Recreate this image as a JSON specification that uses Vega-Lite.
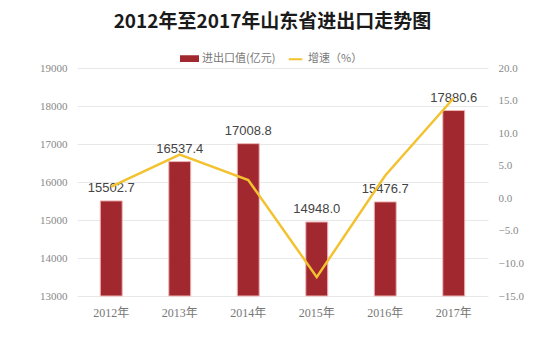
{
  "$schema": "https://vega.github.io/schema/vega-lite/v6.json",
  "autosize": {"type": "none"},
  "width": 411,
  "height": 228,
  "padding": {"left": 77, "top": 68, "right": 62, "bottom": 68},
  "background": "white",
  "config": {"view": {"stroke": null}},
  "title": {
    "text": "2012年至2017年山东省进出口走势图",
    "font": "Noto Sans CJK SC",
    "fontSize": 19,
    "fontWeight": "bold",
    "color": "#1a1a1a",
    "anchor": "middle",
    "frame": "group",
    "offset": 17,
    "dx": -10
  },
  "data": {
    "values": [
      {"year": "2012年", "value": 15502.7, "growth": 1.8},
      {"year": "2013年", "value": 16537.4, "growth": 6.7},
      {"year": "2014年", "value": 17008.8, "growth": 2.8},
      {"year": "2015年", "value": 14948.0, "growth": -12.1},
      {"year": "2016年", "value": 15476.7, "growth": 3.5},
      {"year": "2017年", "value": 17880.6, "growth": 15.4}
    ]
  },
  "encoding": {
    "x": {
      "field": "year",
      "type": "nominal",
      "sort": null,
      "scale": {"paddingInner": 0.68, "paddingOuter": 0.34},
      "axis": {
        "title": null,
        "labelAngle": 0,
        "domain": false,
        "ticks": false,
        "labelPadding": 11,
        "labelFont": "Liberation Serif, Noto Sans CJK SC",
        "labelFontSize": 12,
        "labelColor": "#777777"
      }
    }
  },
  "layer": [
    {
      "layer": [
        {
          "mark": {"type": "bar", "stroke": "#efb5b5", "strokeWidth": 1},
          "encoding": {
            "y": {
              "field": "value",
              "type": "quantitative",
              "scale": {"domain": [13000, 19000], "zero": false, "nice": false},
              "axis": {
                "title": null,
                "values": [13000, 14000, 15000, 16000, 17000, 18000, 19000],
                "tickCount": 7,
                "format": "d",
                "labelOverlap": false,
                "domain": false,
                "ticks": false,
                "labelPadding": 10,
                "gridColor": "#e8e8e8",
                "labelFont": "Liberation Serif",
                "labelFontSize": 11,
                "labelColor": "#888888"
              }
            },
            "y2": {"datum": 13000},
            "color": {
              "datum": "进出口值(亿元)",
              "type": "nominal",
              "scale": {"domain": ["进出口值(亿元)", "增速（%）"], "range": ["#a2282f", "#f2c230"]},
              "legend": {
                "title": null,
                "orient": "none",
                "direction": "horizontal",
                "legendX": 103,
                "legendY": -19,
                "labelFont": "Noto Sans CJK SC",
                "labelFontSize": 11,
                "labelColor": "#777777",
                "symbolSize": 289,
                "columnPadding": 8,
                "labelOffset": 3,
                "encode": {
                  "symbols": {
                    "update": {
                      "shape": {"signal": "datum.value == '增速（%）' ? 'M-0.8,0H0.8' : 'M-1,-0.27H1V0.27H-1Z'"},
                      "fill": {"signal": "datum.value == '增速（%）' ? 'transparent' : '#a2282f'"},
                      "stroke": {"signal": "datum.value == '增速（%）' ? '#f2c230' : '#a2282f'"},
                      "strokeWidth": {"value": 2},
                      "opacity": {"value": 1}
                    }
                  }
                }
              }
            }
          }
        },
        {
          "mark": {"type": "text", "dy": -13, "baseline": "middle", "font": "Liberation Sans", "fontSize": 13, "color": "#444444"},
          "encoding": {
            "y": {
              "field": "value",
              "type": "quantitative",
              "axis": {
                "title": null,
                "values": [13000, 14000, 15000, 16000, 17000, 18000, 19000],
                "tickCount": 7,
                "format": "d",
                "labelOverlap": false,
                "domain": false,
                "ticks": false,
                "labelPadding": 10,
                "gridColor": "#e8e8e8",
                "labelFont": "Liberation Serif",
                "labelFontSize": 11,
                "labelColor": "#888888"
              }
            },
            "text": {"field": "value", "type": "quantitative", "format": ".1f"}
          }
        }
      ]
    },
    {
      "mark": {"type": "line", "strokeWidth": 2.5},
      "encoding": {
        "y": {
          "field": "growth",
          "type": "quantitative",
          "scale": {"domain": [-15, 20], "zero": false, "nice": false},
          "axis": {
            "title": null,
            "orient": "right",
            "values": [-15, -10, -5, 0, 5, 10, 15, 20],
            "format": ".1f",
            "labelOverlap": false,
            "grid": false,
            "domain": false,
            "ticks": false,
            "labelPadding": 10,
            "labelFont": "Liberation Serif",
            "labelFontSize": 11,
            "labelColor": "#888888"
          }
        },
        "color": {
          "datum": "增速（%）",
          "type": "nominal",
          "legend": {
            "title": null,
            "orient": "none",
            "direction": "horizontal",
            "legendX": 103,
            "legendY": -19,
            "labelFont": "Noto Sans CJK SC",
            "labelFontSize": 11,
            "labelColor": "#777777",
            "symbolSize": 289,
            "columnPadding": 8,
            "labelOffset": 3,
            "encode": {
              "symbols": {
                "update": {
                  "shape": {"signal": "datum.value == '增速（%）' ? 'M-0.8,0H0.8' : 'M-1,-0.27H1V0.27H-1Z'"},
                  "fill": {"signal": "datum.value == '增速（%）' ? 'transparent' : '#a2282f'"},
                  "stroke": {"signal": "datum.value == '增速（%）' ? '#f2c230' : '#a2282f'"},
                  "strokeWidth": {"value": 2},
                  "opacity": {"value": 1}
                }
              }
            }
          }
        }
      }
    }
  ],
  "resolve": {"scale": {"y": "independent"}}
}
